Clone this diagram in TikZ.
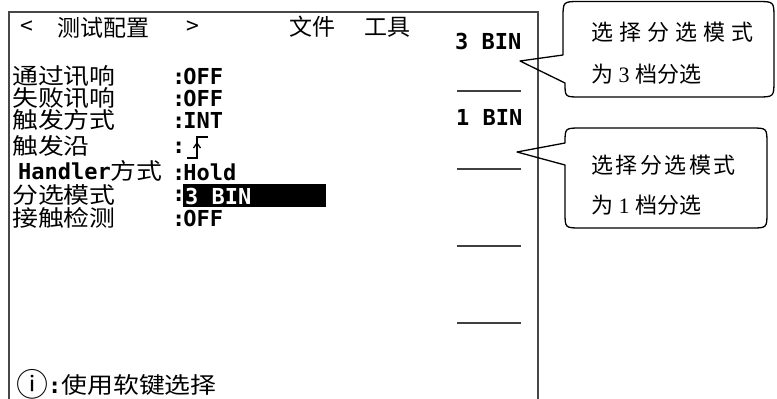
\documentclass[tikz,border=0pt]{standalone}
\usepackage{fontspec}
\newfontfamily\cjk{Noto Sans CJK SC}
\newfontfamily\cjkw{Noto Sans CJK SC}[FakeStretch=1.15]
\newfontfamily\monob{DejaVu Sans Mono}
\newfontfamily\tnr{Liberation Serif}
\newcommand\gapA{\hspace{6pt}}
\newcommand\gapB{\hspace{2.5pt}}
\begin{document}
\begin{tikzpicture}[x=1pt,y=-1pt,
  cn/.style={font=\cjkw\fontsize{22.5}{22.5}\selectfont, inner sep=0pt, anchor=west},
  hd/.style={font=\cjk\fontsize{23}{23}\selectfont, inner sep=0pt, anchor=west},
  val/.style={font=\monob\bfseries\fontsize{22}{22}\selectfont, inner sep=0pt, anchor=west},
  frm/.style={draw=black!72, line width=2pt},
  sepl/.style={draw=black!75, line width=2pt},
  bub/.style={draw=black, line width=1.3pt, line join=round},
  ct/.style={font=\cjk\fontsize{22}{22}\selectfont, inner sep=0pt, anchor=west}]
\useasboundingbox (0,0) rectangle (777,399);
\fill[white] (0,0) rectangle (777,399);
% screen frame
\draw[frm] (9,410) -- (9,12) -- (538,12) -- (538,410);
% header
\node[hd] (lt) at (20,28) {<};
\node[hd] (title) at (57,28) {测试配置};
\node[hd] (gt) at (186,28) {>};
\node[hd] (file) at (289,27) {文件};
\node[hd] (tool) at (364,27) {工具};
% soft keys
\node[val] (b3) at (455,41) {3 BIN};
\node[val] (b1) at (456,117) {1 BIN};
\draw[sepl] (457,91) -- (521,91);
\draw[sepl] (457,169) -- (521,169);
\draw[sepl] (457,246) -- (521,246);
\draw[sepl] (457,323) -- (521,323);
% list labels
\node[cn] (r1) at (12,76) {通过讯响};
\node[cn] (r2) at (12,98) {失败讯响};
\node[cn] (r3) at (12,120) {触发方式};
\node[cn] (r4) at (12,146) {触发沿};
\node[cn] (r5) at (18,171) {{\monob\bfseries\fontsize{22}{22}\selectfont Handler}方式};
\node[cn] (r6) at (12,195) {分选模式};
\node[cn] (r7) at (12,218) {接触检测};
% values
\node[val] (v1) at (172,76) {:\kern-2pt OFF};
\node[val] (v2) at (172,98) {:\kern-2pt OFF};
\node[val] (v3) at (172,120) {:\kern-2pt INT};
\node[val] (v4) at (172,148) {:};
\draw[line width=1.6pt] (187,158) -- (197,158) -- (197,137) -- (208,137);
\draw[line width=1.3pt] (193.5,148) -- (197,143) -- (200.5,148);
\node[val] (v5) at (172,172) {:\kern-2pt Hold};
\node[val] (v6c) at (172,196) {:};
\node[fill=black, inner sep=0pt, minimum width=143pt, minimum height=23pt, anchor=north west] (hl) at (183,184) {};
\node[val, text=white] (v6) at (185,196) {3 BIN};
\node[val] (v7) at (172,218) {:\kern-2pt OFF};
% hint
\node[inner sep=0pt, anchor=west] (hint) at (16,385) {\smash{\raisebox{-3pt}{\cjk\fontsize{32}{32}\selectfont ⓘ}}{\monob\bfseries\fontsize{22}{22}\selectfont :}{\cjkw\fontsize{22.5}{22.5}\selectfont 使用软键选择}};
% callout 1
\draw[bub] (520,61) -- (563,55) -- (563,18) .. controls (563,1.5) .. (580,1.5) -- (757,1.5) .. controls (774,1.5) .. (774,18) -- (774,80) .. controls (774,97) .. (757,97) -- (580,97) .. controls (565,97) .. (565,83) -- cycle;
\node[ct] (c1a) at (591,32) {选\gapA 择\gapA 分\gapA 选\gapA 模\gapA 式};
\node[ct] (c1b) at (591,74) {为{\tnr\fontsize{22}{22}\selectfont\ 3\ }档分选};
% callout 2
\draw[bub] (517,152) -- (565,143) .. controls (565,128) .. (581,128) -- (751,128) .. controls (767,128) .. (767,144) -- (767,212) .. controls (767,228) .. (751,228) -- (581,228) .. controls (565,228) .. (565,212) -- (565,165) -- cycle;
\node[ct] (c2a) at (591,165) {选\gapB 择\gapB 分\gapB 选\gapB 模\gapB 式};
\node[ct] (c2b) at (591,205) {为{\tnr\fontsize{22}{22}\selectfont\ 1\ }档分选};
\end{tikzpicture}
\end{document}
